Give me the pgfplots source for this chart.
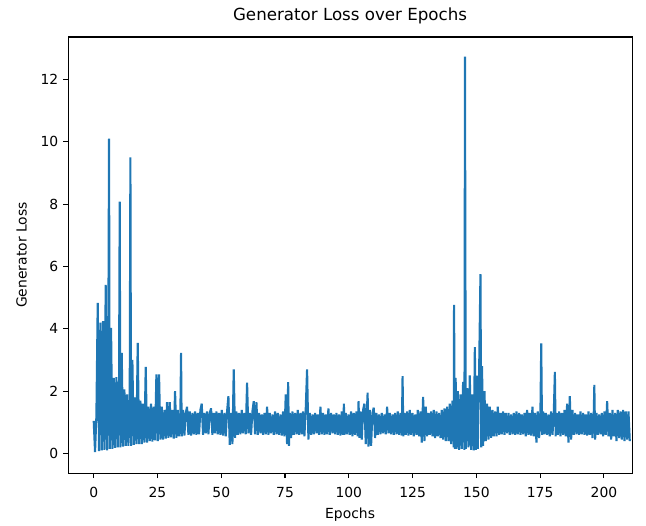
\documentclass[border=0pt]{standalone}
\usepackage{pgfplots}
\pgfplotsset{compat=1.18}
\usetikzlibrary{calc}
\usepackage{fontspec}
\setmainfont{DejaVu Sans}
\definecolor{mplblue}{HTML}{1F77B4}

\begin{document}
\begin{tikzpicture}
\begin{axis}[
  scale only axis, width=406pt, height=314pt,
  xmin=-10.05, xmax=211.05, ymin=-0.63, ymax=13.36,
  xtick={0,25,...,200}, ytick={0,2,...,12},
  tick align=outside, major tick length=3.5pt,
  tick style={black, line width=0.8pt},
  xtick pos=bottom, ytick pos=left,
  axis line style={line width=0.8pt},
  /pgf/number format/assume math mode=true,
  tick label style={font=\fontsize{10}{12}\selectfont},
  xticklabel style={yshift=-3pt},
  label style={font=\fontsize{10}{12}\selectfont},
  title style={font=\fontsize{12}{14}\selectfont, yshift=-0.5pt},
  title={Generator Loss over Epochs},
  xlabel={Epochs}, ylabel={Generator Loss},
  xlabel style={yshift=-0.5pt}, ylabel style={yshift=3pt},
]
\addplot[mplblue, line width=1.5pt, line join=bevel] table[row sep=\\] {
x y\\
0 1.05\\ 0.52 0.05\\ 1.05 1.2\\ 1.57 4.83\\ 2.09 0.08\\ 2.61 4.2\\ 3.14 0.1\\ 3.66 4.25\\ 4.18 0.12\\ 4.7 5.41\\
5.23 0.1\\ 5.75 4.2\\ 6.01 10.1\\ 6.27 0.15\\ 6.8 4.03\\ 7.32 0.15\\ 7.84 2.43\\ 8.36 0.18\\ 8.89 2.45\\ 9.41 0.2\\
9.93 2.3\\ 10.19 8.08\\ 10.46 0.2\\ 10.98 3.23\\ 11.5 0.22\\ 12.02 2.06\\ 12.55 0.25\\ 13.07 1.9\\ 13.59 0.25\\ 14.11 1.8\\
14.38 9.5\\ 14.64 0.25\\ 15.16 3.0\\ 15.68 0.28\\ 16.21 1.8\\ 16.73 0.3\\ 17.25 3.55\\ 17.77 0.3\\ 18.3 1.7\\ 18.82 0.3\\
19.34 1.6\\ 19.86 0.35\\ 20.39 2.78\\ 20.91 0.35\\ 21.43 1.5\\ 21.96 0.4\\ 22.48 1.6\\ 23.0 0.38\\ 23.52 1.5\\ 24.05 0.42\\
24.57 2.54\\ 25.09 0.4\\ 25.61 2.54\\ 26.14 0.45\\ 26.66 1.5\\ 27.18 0.45\\ 27.71 1.4\\ 28.23 0.48\\ 28.75 1.65\\ 29.27 0.5\\
29.8 1.65\\ 30.32 0.52\\ 30.84 1.4\\ 31.37 0.48\\ 31.89 2.0\\ 32.41 0.5\\ 32.93 1.4\\ 33.46 0.55\\ 33.98 1.35\\ 34.24 3.23\\
34.5 0.55\\ 35.02 1.4\\ 35.55 0.58\\ 36.07 1.3\\ 36.59 1.5\\ 37.12 0.6\\ 37.64 1.35\\ 38.16 0.58\\ 38.68 1.3\\ 39.21 0.62\\
39.73 1.35\\ 40.25 0.6\\ 40.77 1.3\\ 41.3 0.62\\ 41.82 1.4\\ 42.34 1.6\\ 42.87 0.6\\ 43.39 1.3\\ 43.91 0.65\\ 44.43 1.35\\
44.96 0.62\\ 45.48 1.3\\ 46.0 1.45\\ 46.52 0.6\\ 47.05 1.3\\ 47.57 0.65\\ 48.09 1.35\\ 48.62 0.62\\ 49.14 1.3\\ 49.66 0.6\\
50.18 1.4\\ 50.71 0.58\\ 51.23 1.3\\ 51.75 0.55\\ 52.28 1.35\\ 52.8 1.84\\ 53.32 0.28\\ 53.84 1.3\\ 54.37 0.3\\ 54.89 2.7\\
55.41 0.5\\ 55.93 1.35\\ 56.46 0.6\\ 56.98 1.3\\ 57.5 0.62\\ 58.03 1.4\\ 58.55 0.65\\ 59.07 1.3\\ 59.59 0.62\\ 60.12 2.27\\
60.64 0.65\\ 61.16 1.3\\ 61.68 0.6\\ 62.21 1.35\\ 62.73 1.68\\ 63.25 0.62\\ 63.78 1.65\\ 64.3 0.6\\ 64.82 1.3\\ 65.34 0.65\\
65.87 1.25\\ 66.39 0.6\\ 66.91 1.3\\ 67.43 0.62\\ 67.96 1.5\\ 68.48 0.6\\ 69.0 1.3\\ 69.53 0.65\\ 70.05 1.25\\ 70.57 0.6\\
71.09 1.35\\ 71.62 0.62\\ 72.14 1.3\\ 72.66 0.6\\ 73.19 1.25\\ 73.71 0.58\\ 74.23 1.35\\ 74.75 0.55\\ 75.28 1.9\\ 75.8 0.3\\
76.22 2.29\\ 76.53 0.25\\ 76.84 1.3\\ 77.37 0.5\\ 77.89 1.35\\ 78.41 0.6\\ 78.94 1.3\\ 79.46 0.62\\ 79.98 1.4\\ 80.5 0.6\\
81.03 1.3\\ 81.55 0.62\\ 82.07 1.35\\ 82.59 0.55\\ 83.12 1.45\\ 83.64 2.7\\ 84.16 0.45\\ 84.69 1.3\\ 85.21 0.6\\ 85.73 1.25\\
86.25 0.62\\ 86.78 1.3\\ 87.3 0.65\\ 87.82 1.25\\ 88.34 0.6\\ 88.87 1.5\\ 89.39 0.62\\ 89.91 1.3\\ 90.44 0.6\\ 90.96 1.25\\
91.48 0.62\\ 92.0 1.45\\ 92.53 0.6\\ 93.05 1.3\\ 93.57 0.65\\ 94.1 1.25\\ 94.62 0.62\\ 95.14 1.3\\ 95.66 0.6\\ 96.19 1.25\\
96.71 0.58\\ 97.23 1.35\\ 97.75 0.6\\ 98.07 1.6\\ 98.28 0.6\\ 98.8 1.3\\ 99.32 0.62\\ 99.85 1.25\\ 100.37 0.6\\ 100.89 1.35\\
101.41 0.55\\ 101.94 1.3\\ 102.46 0.6\\ 102.98 1.35\\ 103.5 0.55\\ 103.82 1.68\\ 104.13 0.5\\ 104.55 1.35\\ 105.07 0.45\\ 105.6 1.4\\
106.12 1.6\\ 106.64 0.3\\ 107.16 1.5\\ 107.37 1.95\\ 107.69 0.22\\ 108.21 1.4\\ 108.73 0.25\\ 109.25 1.3\\ 109.78 1.47\\ 110.3 0.5\\
110.82 1.3\\ 111.35 0.6\\ 111.87 1.25\\ 112.39 0.62\\ 112.91 1.3\\ 113.44 0.65\\ 113.96 1.25\\ 114.48 0.62\\ 115.01 1.5\\ 115.53 0.65\\
116.05 1.3\\ 116.57 0.62\\ 117.1 1.25\\ 117.62 0.6\\ 118.14 1.3\\ 118.66 0.62\\ 119.19 1.35\\ 119.71 0.6\\ 120.23 1.3\\ 120.76 0.58\\
121.07 2.48\\ 121.38 0.55\\ 121.8 1.3\\ 122.32 0.6\\ 122.85 1.35\\ 123.37 0.58\\ 123.89 1.4\\ 124.41 0.6\\ 124.94 1.3\\ 125.46 0.55\\
125.98 1.25\\ 126.51 0.6\\ 127.03 1.4\\ 127.55 0.55\\ 128.07 1.35\\ 128.6 0.35\\ 129.12 1.82\\ 129.64 0.4\\ 130.16 1.5\\ 130.69 0.55\\
131.21 1.3\\ 131.73 0.6\\ 132.26 1.35\\ 132.78 0.55\\ 133.3 1.4\\ 133.82 0.5\\ 134.35 1.35\\ 134.87 0.55\\ 135.39 1.3\\ 135.92 0.5\\
136.44 1.4\\ 136.96 0.45\\ 137.48 1.45\\ 138.01 0.4\\ 138.53 1.5\\ 139.05 0.4\\ 139.57 1.6\\ 140.1 0.3\\ 140.62 1.7\\ 141.14 0.2\\
141.25 4.77\\ 141.56 0.15\\ 141.88 2.43\\ 142.19 0.15\\ 142.71 2.0\\ 143.23 0.12\\ 143.76 1.9\\ 144.28 0.15\\ 144.8 2.3\\ 145.32 0.12\\
145.53 12.73\\ 145.85 0.15\\ 146.37 2.1\\ 146.89 0.2\\ 147.42 2.51\\ 147.94 0.12\\ 148.46 1.9\\ 148.98 0.1\\ 149.4 3.41\\ 149.82 0.12\\
150.13 2.5\\ 150.55 0.15\\ 151.07 2.6\\ 151.6 5.75\\ 151.91 0.2\\ 152.22 2.8\\ 152.64 0.25\\ 153.17 2.0\\ 153.69 0.4\\ 154.21 1.6\\
154.73 0.45\\ 155.26 1.5\\ 155.78 0.5\\ 156.3 1.4\\ 156.83 0.55\\ 157.35 1.35\\ 157.87 0.55\\ 158.39 1.5\\ 158.92 0.6\\ 159.44 1.3\\
159.96 0.62\\ 160.48 1.35\\ 161.01 0.6\\ 161.53 1.3\\ 162.05 0.65\\ 162.58 1.3\\ 163.1 0.6\\ 163.62 1.25\\ 164.14 0.62\\ 164.67 1.3\\
165.19 0.6\\ 165.71 1.35\\ 166.23 0.62\\ 166.76 1.3\\ 167.28 0.6\\ 167.8 1.25\\ 168.33 0.62\\ 168.85 1.3\\ 169.37 0.55\\ 169.89 1.4\\
170.42 0.6\\ 170.94 1.3\\ 171.46 0.58\\ 171.98 1.5\\ 172.51 0.55\\ 173.03 1.3\\ 173.55 0.35\\ 174.08 1.35\\ 174.6 0.5\\ 175.12 1.4\\
175.43 3.53\\ 175.75 0.6\\ 176.17 1.35\\ 176.69 0.62\\ 177.21 1.3\\ 177.74 0.6\\ 178.26 1.25\\ 178.78 0.55\\ 179.3 1.35\\ 179.83 0.6\\
180.35 1.3\\ 180.77 2.62\\ 181.08 0.55\\ 181.39 1.3\\ 181.92 0.6\\ 182.44 1.35\\ 182.96 0.55\\ 183.49 1.3\\ 184.01 0.6\\ 184.53 1.4\\
185.05 0.55\\ 185.58 1.6\\ 186.1 0.35\\ 186.62 1.84\\ 187.14 0.45\\ 187.67 1.4\\ 188.19 0.6\\ 188.71 1.3\\ 189.24 0.62\\ 189.76 1.25\\
190.28 0.6\\ 190.8 1.35\\ 191.33 0.62\\ 191.85 1.3\\ 192.37 0.6\\ 192.89 1.25\\ 193.42 0.58\\ 193.94 1.35\\ 194.46 0.6\\ 194.99 1.3\\
195.51 0.5\\ 196.03 1.35\\ 196.24 2.2\\ 196.55 0.45\\ 197.08 1.3\\ 197.6 0.6\\ 198.12 1.25\\ 198.65 0.62\\ 199.17 1.3\\ 199.69 0.55\\
200.21 1.35\\ 200.74 0.6\\ 201.26 1.68\\ 201.78 0.55\\ 202.3 1.3\\ 202.83 0.45\\ 203.35 1.4\\ 203.87 0.55\\ 204.4 1.3\\ 204.92 0.4\\
205.44 1.4\\ 205.96 0.5\\ 206.49 1.35\\ 207.01 0.45\\ 207.53 1.4\\ 208.05 0.4\\ 208.58 1.35\\ 209.1 0.45\\ 209.62 1.35\\ 210.14 0.4\\
};
\end{axis}
\pgfresetboundingbox
\path ($(current axis.south west)+(-49pt,-38pt)$) rectangle ($(current axis.north east)+(10pt,26.6pt)$);
\end{tikzpicture}
\end{document}
